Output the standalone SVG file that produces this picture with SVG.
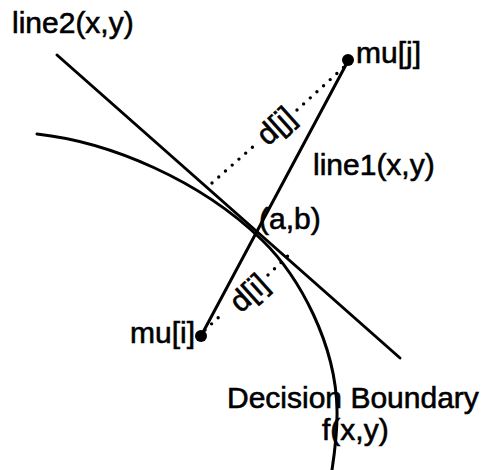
<svg xmlns="http://www.w3.org/2000/svg" width="489" height="470" viewBox="0 0 489 470">
<style>
.ln{fill:none;stroke:#000;stroke-width:3;stroke-linecap:round}
.dot{fill:none;stroke:#000;stroke-width:3.4;stroke-linecap:round;stroke-dasharray:0 9}
.t{font-family:"Liberation Sans",Arial,sans-serif;font-size:30px;fill:#000;stroke:#000;stroke-width:0.6}
</style>
<rect width="489" height="470" fill="#fff"/>
<g id="connectors">
<path id="line2" class="ln" d="M57,55 L400,358"/>
<path id="line1" class="ln" d="M201,336 L348,61"/>
<path id="boundary" class="ln" d="M37,134 C110,142 200,180 262,240 C300,277 336,345 337,410 C337.5,430 335,450 332,470"/>
<path id="dj-a" class="dot" d="M212,183 L256,144"/>
<path id="dj-b" class="dot" d="M297,110 L344,67"/>
<path id="di-a" class="dot" d="M205,330 L220,316"/>
<path id="di-b" class="dot" d="M268,275 L292,252"/>
</g>
<g id="mu-j"><circle cx="348" cy="60" r="6"/><text class="t" x="356" y="63">mu[j]</text></g>
<g id="mu-i"><circle cx="201" cy="336" r="6"/><text class="t" x="130" y="343">mu[i]</text></g>
<g id="line2-label"><text class="t" x="12" y="33">line2(x,y)</text></g>
<g id="line1-label"><text class="t" x="313" y="175">line1(x,y)</text></g>
<g id="ab-label"><text class="t" x="259" y="229">(a,b)</text></g>
<g id="dj-label"><text class="t" text-anchor="middle" transform="translate(276,126) rotate(-42)" x="0" y="10">d[j]</text></g>
<g id="di-label"><text class="t" text-anchor="middle" transform="translate(249,293) rotate(-42)" x="0" y="10">d[i]</text></g>
<g id="boundary-label"><text class="t" x="227" y="408">Decision Boundary</text><text class="t" x="322" y="440">f(x,y)</text></g>
</svg>
